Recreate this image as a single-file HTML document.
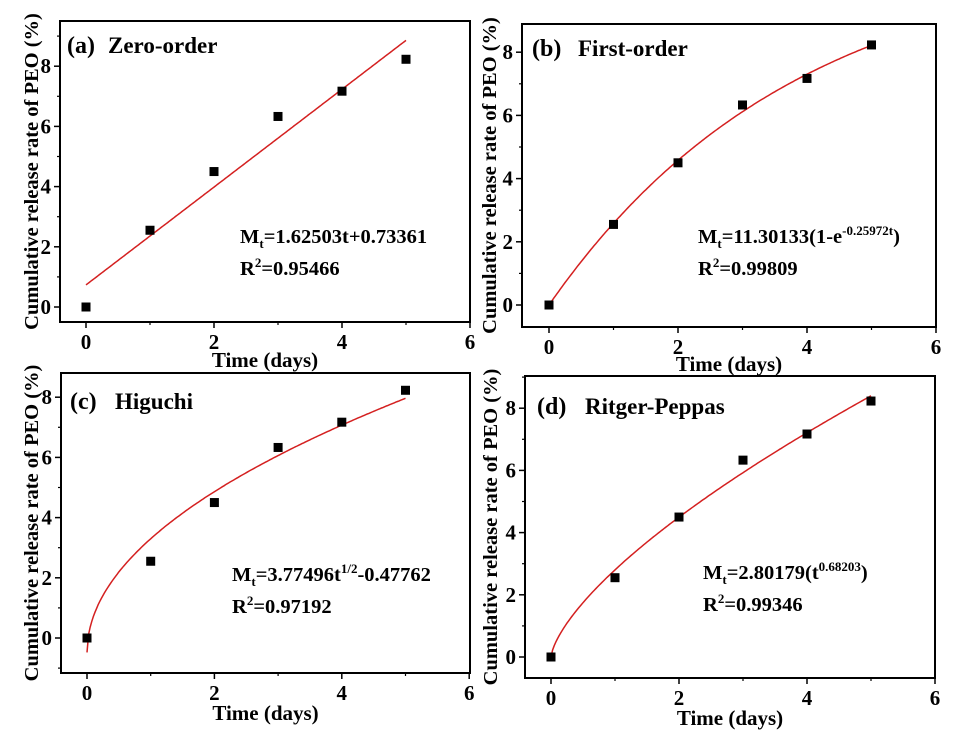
<!DOCTYPE html>
<html><head><meta charset="utf-8"><style>
html,body{margin:0;padding:0;background:#fff;}
svg{display:block;font-family:"Liberation Serif",serif;font-weight:bold;}
</style></head><body>
<svg id="s" width="955" height="736" viewBox="0 0 955 736" xmlns="http://www.w3.org/2000/svg"></svg>
<script>
const P=[
 {L:60,T:21,R:470,B:322,x0:86,sx:64,y0:307,sy:30.1,yl:31,xt:360,tk:342,lab:"(a)",name:"Zero-order",lx:67,ly:45,nx:108,eq:"M<tspan font-size='13' dy='5'>t</tspan><tspan dy='-5'>=1.62503t+0.73361</tspan>",ex:240,ey:236,r2:"0.95466",f:t=>1.62503*t+0.73361},
 {L:522,T:24,R:936,B:327,x0:549,sx:64.5,y0:305,sy:31.6,yl:489,xt:364,tk:347,lab:"(b)",name:"First-order",lx:532,ly:48,nx:578,eq:"M<tspan font-size='13' dy='5'>t</tspan><tspan dy='-5'>=11.30133(1-e</tspan><tspan font-size='13' dy='-8'>-0.25972t</tspan><tspan dy='8'>)</tspan>",ex:698,ey:236,r2:"0.99809",f:t=>11.30133*(1-Math.exp(-0.25972*t))},
 {L:61,T:373,R:470,B:673,x0:87,sx:63.7,y0:638,sy:30.1,yl:31,xt:713,tk:693,lab:"(c)",name:"Higuchi",lx:70,ly:401,nx:115,eq:"M<tspan font-size='13' dy='5'>t</tspan><tspan dy='-5'>=3.77496t</tspan><tspan font-size='13' dy='-8'>1/2</tspan><tspan dy='8'>-0.47762</tspan>",ex:232,ey:574,r2:"0.97192",f:t=>3.77496*Math.sqrt(t)-0.47762},
 {L:525,T:376,R:935,B:678,x0:551,sx:64,y0:657,sy:31.1,yl:490,xt:718,tk:698,lab:"(d)",name:"Ritger-Peppas",lx:537,ly:406,nx:585,eq:"M<tspan font-size='13' dy='5'>t</tspan><tspan dy='-5'>=2.80179(t</tspan><tspan font-size='13' dy='-8'>0.68203</tspan><tspan dy='8'>)</tspan>",ex:703,ey:572,r2:"0.99346",f:t=>2.80179*Math.pow(t,0.68203)}
];
const D=[0,2.55,4.5,6.33,7.17,8.23];
let h="";
for(const p of P){
 const X=t=>p.x0+t*p.sx, Y=v=>p.y0-v*p.sy;
 h+=`<rect x="${p.L}" y="${p.T}" width="${p.R-p.L}" height="${p.B-p.T}" fill="none" stroke="#000" stroke-width="2"/>`;
 for(let i=0;i<=6;i++){const x=X(i);
  if(i%2==0){h+=`<line x1="${x}" y1="${p.B}" x2="${x}" y2="${p.B+6}" stroke="#000" stroke-width="1.5"/><text x="${x}" y="${p.tk+7}" font-size="21" text-anchor="middle">${i}</text>`;}
  else h+=`<line x1="${x}" y1="${p.B}" x2="${x}" y2="${p.B+3}" stroke="#000" stroke-width="1.2"/>`;}
 for(let v=-1;v<=9;v++){const y=Y(v); if(y<p.T||y>p.B)continue;
  if(v%2==0&&v>=0){h+=`<line x1="${p.L}" y1="${y}" x2="${p.L-6}" y2="${y}" stroke="#000" stroke-width="1.5"/><text x="${p.L-9}" y="${y+7}" font-size="21" text-anchor="end">${v}</text>`;}
  else h+=`<line x1="${p.L}" y1="${y}" x2="${p.L-3}" y2="${y}" stroke="#000" stroke-width="1.2"/>`;}
 h+=`<text x="${(p.L+p.R)/2}" y="${p.xt+7}" font-size="21" text-anchor="middle">Time (days)</text>`;
 h+=`<text transform="translate(${p.yl},${(p.T+p.B)/2}) rotate(-90)" y="7" font-size="20.5" text-anchor="middle">Cumulative release rate of PEO (%)</text>`;
 h+=`<text x="${p.lx}" y="${p.ly+8}" font-size="24">${p.lab}</text><text x="${p.nx}" y="${p.ly+8}" font-size="23">${p.name}</text>`;
 let d="";for(let k=0;k<=200;k++){const t=5*k/200;d+=(k?"L":"M")+X(t).toFixed(1)+","+Y(p.f(t)).toFixed(1);}
 h+=`<path d="${d}" fill="none" stroke="#d42020" stroke-width="1.5"/>`;
 D.forEach((v,i)=>{h+=`<rect x="${X(i)-4.5}" y="${Y(v)-4.5}" width="9" height="9" fill="#000"/>`;});
 h+=`<text x="${p.ex}" y="${p.ey+7}" font-size="20.5">${p.eq}</text>`;
 h+=`<text x="${p.ex}" y="${p.ey+39}" font-size="20.5">R<tspan font-size="13" dy="-8">2</tspan><tspan dy="8">=${p.r2}</tspan></text>`;
}
document.getElementById("s").innerHTML=h;
</script>
</body></html>
